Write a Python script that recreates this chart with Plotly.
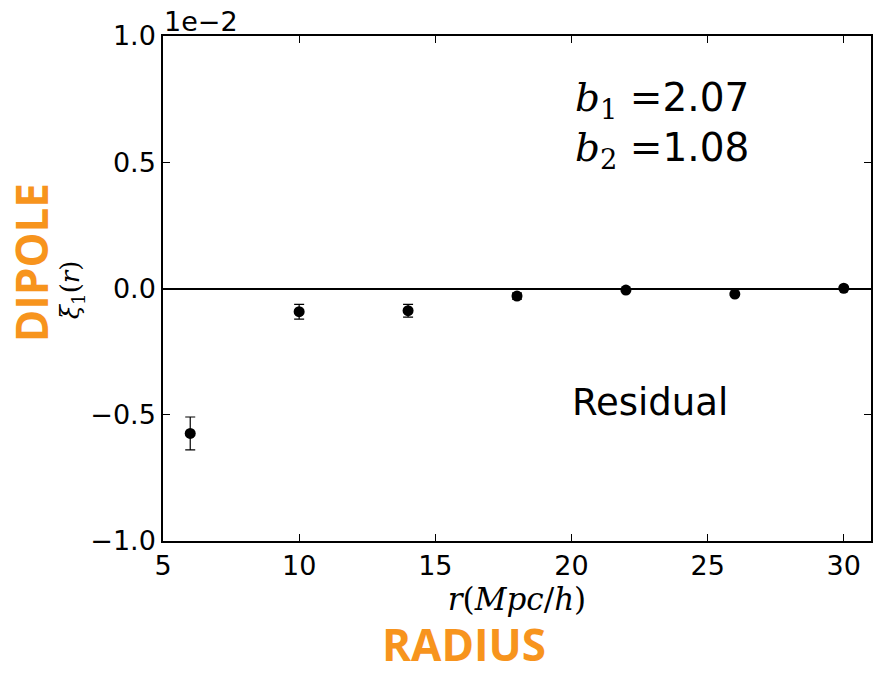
import plotly.graph_objects as go

r_vals = [6, 10, 14, 18, 22, 26, 30]
xi1_vals = [-0.574, -0.092, -0.088, -0.030, -0.006, -0.022, 0.001]
xi1_err = [0.065, 0.029, 0.025, 0.012, 0.004, 0.004, 0.004]
x_ticks = [5, 10, 15, 20, 25, 30]
y_ticks = [-1.0, -0.5, 0.0, 0.5, 1.0]
y_tick_labels = ["−1.0", "−0.5", "0.0", "0.5", "1.0"]

ORANGE = "#F7941D"
SANS = "DejaVu Sans"
SERIF = "DejaVu Serif"
TICK_SIZE = 27

fig = go.Figure()
fig.add_trace(go.Scatter(
    x=r_vals, y=xi1_vals, mode="markers",
    marker=dict(color="black", size=11),
    error_y=dict(type="data", array=xi1_err, visible=True, color="black", thickness=1.2, width=5),
    showlegend=False,
))

axis_common = dict(
    showline=True, linecolor="black", linewidth=1.5, mirror="ticks",
    ticks="inside", ticklen=7, tickcolor="black", tickwidth=1,
    showgrid=False,
    tickfont=dict(family=SANS, size=TICK_SIZE, color="black"),
)

fig.update_xaxes(range=[5, 31], tickvals=x_ticks, ticktext=[str(v) for v in x_ticks],
                 zeroline=False,
                 title=dict(text="<i>r</i>(<i>Mpc</i>/<i>h</i>)", font=dict(family=SERIF, size=31, color="black"), standoff=0),
                 **axis_common)
fig.update_yaxes(range=[-1.0, 1.0], tickvals=y_ticks, ticktext=y_tick_labels,
                 zeroline=True, zerolinecolor="black", zerolinewidth=1.5,
                 **axis_common)


def px_to_dom_x(px):
    return (px - 163) / (873 - 163)


def px_to_dom_y(py):
    return (541 - py) / (541 - 36)


annotations = [
    dict(text="1e−2", x=px_to_dom_x(162), y=px_to_dom_y(22), xref="paper", yref="paper",
         xanchor="left", yanchor="middle", showarrow=False,
         font=dict(family=SANS, size=TICK_SIZE, color="black")),
    dict(text="<i>b</i><sub>1</sub> =<span style='font-family:DejaVu Sans'>2.07</span>",
         x=px_to_dom_x(574), y=px_to_dom_y(100), xref="paper", yref="paper",
         xanchor="left", yanchor="middle", showarrow=False,
         font=dict(family=SERIF, size=39, color="black")),
    dict(text="<i>b</i><sub>2</sub> =<span style='font-family:DejaVu Sans'>1.08</span>",
         x=px_to_dom_x(574), y=px_to_dom_y(150), xref="paper", yref="paper",
         xanchor="left", yanchor="middle", showarrow=False,
         font=dict(family=SERIF, size=39, color="black")),
    dict(text="Residual", x=px_to_dom_x(571), y=px_to_dom_y(402), xref="paper", yref="paper",
         xanchor="left", yanchor="middle", showarrow=False,
         font=dict(family=SANS, size=37, color="black")),
    dict(text="<i>ξ</i><sub>1</sub>(<i>r</i>)", x=px_to_dom_x(71), y=px_to_dom_y(290), xref="paper", yref="paper",
         xanchor="center", yanchor="middle", showarrow=False, textangle=-90,
         font=dict(family=SERIF, size=26, color="black")),
    dict(text="<b>DIPOLE</b>", x=px_to_dom_x(31), y=px_to_dom_y(263), xref="paper", yref="paper",
         xanchor="center", yanchor="middle", showarrow=False, textangle=-90,
         font=dict(family="Open Sans", size=44, color=ORANGE)),
    dict(text="<b>RADIUS</b>", x=px_to_dom_x(465), y=px_to_dom_y(644), xref="paper", yref="paper",
         xanchor="center", yanchor="middle", showarrow=False,
         font=dict(family="Open Sans", size=44, color=ORANGE)),
]

fig.update_layout(
    width=874, height=675,
    margin=dict(l=163, r=1, t=36, b=134),
    paper_bgcolor="white", plot_bgcolor="white",
    annotations=annotations,
)

fig.write_html("out.html")
